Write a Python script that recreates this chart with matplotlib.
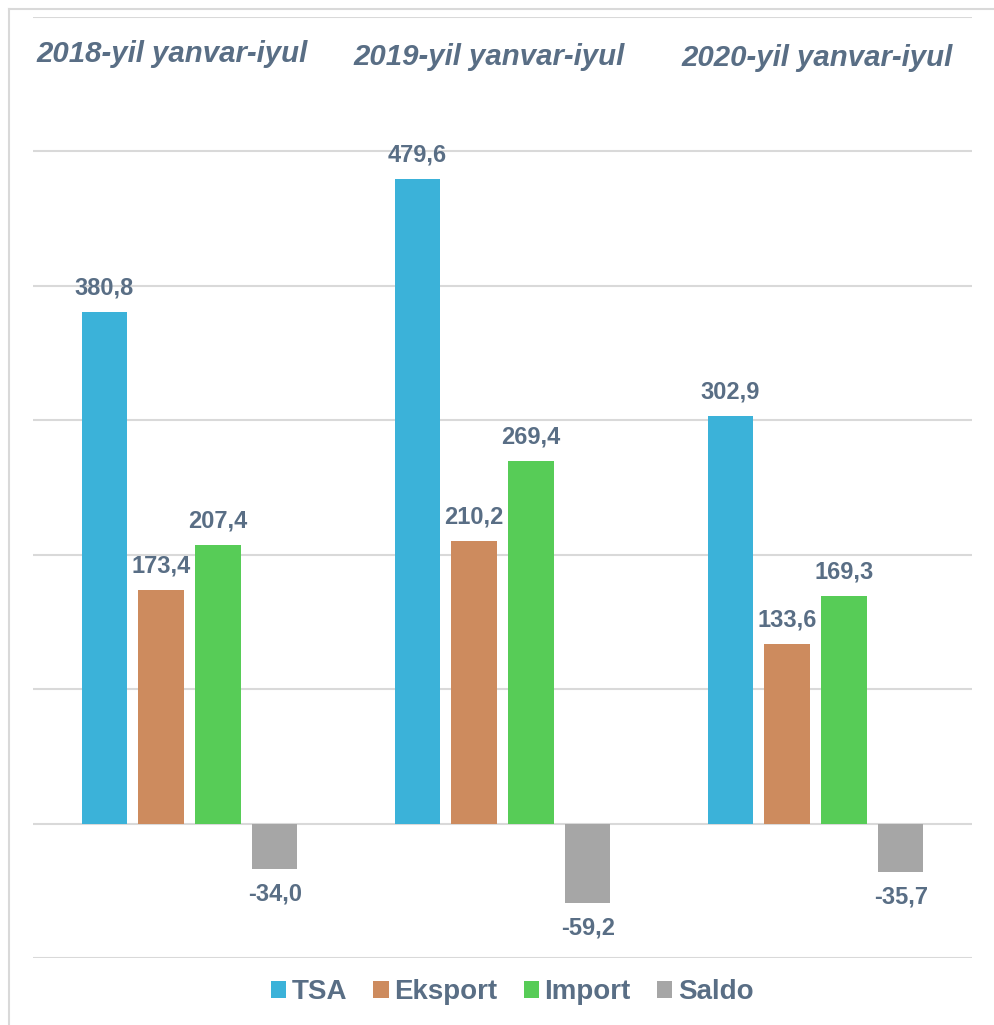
import numpy as np
import matplotlib
matplotlib.use("Agg")
import matplotlib.pyplot as plt
from matplotlib.lines import Line2D

# datos
periodos = ["2018-yil yanvar-iyul", "2019-yil yanvar-iyul", "2020-yil yanvar-iyul"]
series = ["TSA", "Eksport", "Import", "Saldo"]
tsa = [380.8, 479.6, 302.9]
eksport = [173.4, 210.2, 133.6]
importe = [207.4, 269.4, 169.3]
saldo = [-34.0, -59.2, -35.7]

colores = ["#3BB2D9", "#CD8B5E", "#57CC57", "#A6A6A6"]
texto = "#596E85"
plt.rcParams["font.family"] = ["Liberation Sans", "DejaVu Sans"]

W, H = 995, 1025
fig = plt.figure(figsize=(W / 100, H / 100), dpi=100)
ax = fig.add_axes([33 / W, (H - 958) / H, (972 - 33) / W, (958 - 17) / H])

x = np.arange(len(periodos))
ancho = 0.144
paso = 0.182
valores = [tsa, eksport, importe, saldo]

for i, (nombre, vals) in enumerate(zip(series, valores)):
    pos = x + (i - 1.5) * paso
    ax.bar(pos, vals, width=ancho, color=colores[i], label=nombre, zorder=3)
    for xp, v in zip(pos, vals):
        txt = f"{v:.1f}".replace(".", ",")
        off = 24 if v >= 0 else -25
        ax.annotate(txt, (xp, v), xytext=(0, off), textcoords="offset pixels",
                    ha="center", va="center", fontsize=17, fontweight="bold",
                    color=texto, zorder=4)

ax.set_xlim(-0.5, 2.5)
ax.set_ylim(-100, 600)
ax.set_yticks(range(-100, 601, 100))
ax.set_xticks([])
ax.tick_params(left=False, labelleft=False)
ax.grid(axis="y", color="#D9D9D9", linewidth=1.5, zorder=0)
for s in ax.spines.values():
    s.set_visible(False)

# titulos de cada periodo
for px, py, t in zip([172, 489, 817], [62, 65, 66], periodos):
    fig.text(px / W, 1 - py / H, t, ha="center", va="baseline", fontsize=21.2,
             fontweight="bold", fontstyle="italic", color=texto)

leg = fig.legend(loc="center", bbox_to_anchor=(512 / W, 1 - 992 / H), ncol=4,
                 frameon=False, handlelength=0.55, handleheight=0.55,
                 handletextpad=0.2, columnspacing=0.95,
                 prop={"size": 20, "weight": "bold"})
for t in leg.get_texts():
    t.set_color(texto)

# marco
fig.add_artist(Line2D([8.5 / W, 8.5 / W], [0, 1 - 8.5 / H], color="#D9D9D9", linewidth=1.5))
fig.add_artist(Line2D([8.5 / W, 1], [1 - 8.5 / H, 1 - 8.5 / H], color="#D9D9D9", linewidth=1.5))

fig.savefig("out.png", dpi=100, facecolor="white")
